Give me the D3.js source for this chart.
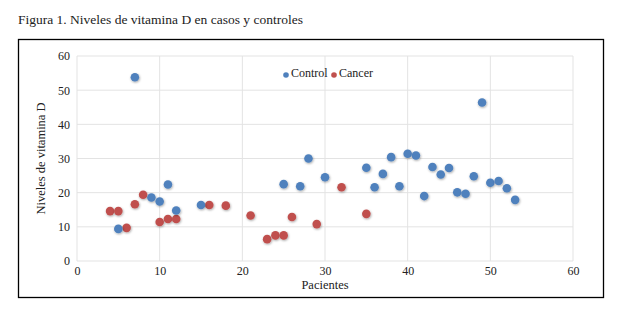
<!DOCTYPE html>
<html lang="es">
<head>
<meta charset="UTF-8">
<title>Figura 1</title>
<script src="https://d3js.org/d3.v7.min.js"></script>
<style>
  body { margin: 0; background: #fff; }
  text { font-family: "Liberation Serif", "DejaVu Serif", serif; fill: #222; }
</style>
</head>
<body>
<svg id="chart" width="624" height="318"></svg>
<script>
// datos
var controlX = [5, 7, 9, 10, 11, 12, 15, 25, 27, 28, 30, 35, 36, 37, 38, 39, 40, 41, 42, 43, 44, 45, 46, 47, 48, 49, 50, 51, 52, 53];
var controlY = [9.4, 53.8, 18.6, 17.4, 22.4, 14.8, 16.4, 22.5, 21.9, 30.0, 24.5, 27.3, 21.6, 25.5, 30.4, 21.9, 31.4, 30.9, 19.0, 27.5, 25.3, 27.2, 20.1, 19.7, 24.8, 46.4, 22.9, 23.4, 21.3, 17.9];
var cancerX = [4, 5, 6, 7, 8, 10, 11, 12, 16, 18, 21, 23, 24, 25, 26, 29, 32, 35];
var cancerY = [14.6, 14.6, 9.7, 16.6, 19.4, 11.4, 12.3, 12.3, 16.4, 16.2, 13.3, 6.4, 7.5, 7.5, 12.9, 10.8, 21.6, 13.8];
var xTicks = [0, 10, 20, 30, 40, 50, 60];
var yTicks = [0, 10, 20, 30, 40, 50, 60];

var svg = d3.select("#chart");

// titulo
svg.append("text").attr("x", 18).attr("y", 24)
    .style("font-size", "13.5px").text("Figura 1. Niveles de vitamina D en casos y controles");

// marco
svg.append("rect").attr("x", 18.5).attr("y", 39.5).attr("width", 585).attr("height", 258)
    .attr("fill", "none").attr("stroke", "#000").attr("stroke-width", 1.3);

var pLeft = 77, pTop = 56, w = 496, h = 205;
var x = d3.scaleLinear().domain([0, 60]).range([pLeft, pLeft + w]);
var y = d3.scaleLinear().domain([0, 60]).range([pTop + h, pTop]);

// sombra para los puntos
var defs = svg.append("defs");
var f = defs.append("filter").attr("id", "sh").attr("x", "-50%").attr("y", "-50%").attr("width", "200%").attr("height", "200%");
f.append("feDropShadow").attr("dx", 0.6).attr("dy", 1).attr("stdDeviation", 0.8).attr("flood-color", "#000").attr("flood-opacity", 0.35);

// rejilla
svg.append("g").selectAll("line.gx").data(xTicks).enter().append("line")
    .attr("x1", d => x(d)).attr("x2", d => x(d)).attr("y1", pTop).attr("y2", pTop + h)
    .attr("stroke", "#e3e3e3").attr("stroke-width", 1);
svg.append("g").selectAll("line.gy").data(yTicks).enter().append("line")
    .attr("x1", pLeft).attr("x2", pLeft + w).attr("y1", d => y(d)).attr("y2", d => y(d))
    .attr("stroke", "#e3e3e3").attr("stroke-width", 1);

// ejes
var xAxis = svg.append("g").attr("transform", "translate(0," + (pTop + h) + ")")
    .call(d3.axisBottom(x).tickValues(xTicks).tickSize(0).tickPadding(5));
xAxis.select(".domain").remove();
xAxis.selectAll("text").style("font-size", "12px").style("font-family", "Liberation Serif, serif").attr("fill", "#222");

var yAxis = svg.append("g").attr("transform", "translate(" + pLeft + ",0)")
    .call(d3.axisLeft(y).tickValues(yTicks).tickSize(0).tickPadding(7));
yAxis.select(".domain").remove();
yAxis.selectAll("text").style("font-size", "12px").style("font-family", "Liberation Serif, serif").attr("fill", "#222");

// titulos de ejes
svg.append("text").attr("x", x(30)).attr("y", 289).attr("text-anchor", "middle")
    .style("font-size", "12.5px").text("Pacientes");
svg.append("text").attr("transform", "translate(45," + (pTop + h / 2) + ") rotate(-90)")
    .attr("text-anchor", "middle").style("font-size", "12.5px").text("Niveles de vitamina D");

// puntos
function drawSeries(xs, ys, color) {
  svg.append("g").selectAll("circle").data(xs).enter().append("circle")
      .attr("cx", (d, i) => x(d)).attr("cy", (d, i) => y(ys[i]))
      .attr("r", 4.3).attr("fill", color).attr("filter", "url(#sh)");
}
drawSeries(cancerX, cancerY, "#c0504d");
drawSeries(controlX, controlY, "#4f81bd");

// leyenda
var legend = [["Control", "#4f81bd", 286], ["Cancer", "#c0504d", 334]];
legend.forEach(function (l) {
  svg.append("circle").attr("cx", l[2]).attr("cy", 75).attr("r", 2.8).attr("fill", l[1]);
  svg.append("text").attr("x", l[2] + 5).attr("y", 77).style("font-size", "12px").text(l[0]);
});
</script>
</body>
</html>
